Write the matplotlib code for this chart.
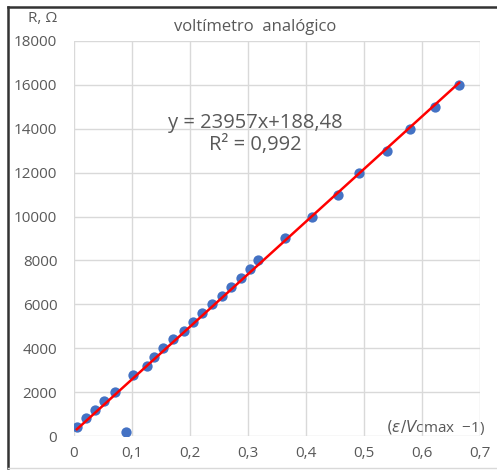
import matplotlib.pyplot as plt
import numpy as np
from matplotlib.lines import Line2D

plt.rcParams['font.family'] = ['Open Sans', 'DejaVu Sans']

# datos
x_vals = [0.005, 0.021, 0.036, 0.052, 0.071, 0.090, 0.102, 0.125, 0.138, 0.154,
          0.171, 0.190, 0.205, 0.221, 0.238, 0.255, 0.270, 0.288, 0.303, 0.318,
          0.364, 0.410, 0.455, 0.491, 0.540, 0.579, 0.622, 0.664]
r_vals = [400, 800, 1200, 1600, 2000, 200, 2800, 3200, 3600, 4000,
          4400, 4800, 5200, 5600, 6000, 6400, 6800, 7200, 7600, 8000,
          9000, 10000, 11000, 12000, 13000, 14000, 15000, 16000]
slope, intercept = 23957, 188.48
x_ticks = [0, 0.1, 0.2, 0.3, 0.4, 0.5, 0.6, 0.7]
y_ticks = list(range(0, 18001, 2000))

gray = '#595959'
fig = plt.figure(figsize=(4.97, 4.70), dpi=100)
ax = fig.add_axes([74 / 497, 34 / 470, 406 / 497, 395 / 470])

ax.scatter(x_vals, r_vals, s=55, color='#4472C4', zorder=3, linewidths=0)
xl = np.array([min(x_vals), max(x_vals)])
ax.plot(xl, slope * xl + intercept, color='#FF0000', lw=1.8, zorder=4)

ax.set_xlim(0, 0.7)
ax.set_ylim(0, 18000)
ax.set_xticks(x_ticks)
ax.set_xticklabels(['0' if t == 0 else f'{t:.1f}'.replace('.', ',') for t in x_ticks])
ax.set_yticks(y_ticks)
ax.grid(True, color='#D9D9D9', lw=1)
ax.set_axisbelow(True)
for s in ax.spines.values():
    s.set_visible(False)
ax.tick_params(length=0, colors=gray, labelsize=11, pad=7)
ax.tick_params(axis='y', pad=12)

ax.text(0.624, 380, r'$(\varepsilon/V$' + 'cmax  −1)', ha='center', va='center',
        fontsize=11, color=gray)
ax.text(0.313, 14280, 'y = 23957x+188,48', ha='center', va='center', fontsize=14.5, color=gray)
ax.text(0.313, 13250, 'R² = 0,992', ha='center', va='center', fontsize=14.5, color=gray)

fig.text(255 / 497, 1 - 27 / 470, 'voltímetro  analógico', ha='center', va='center',
         fontsize=12, color=gray)
fig.text(43 / 497, 1 - 19 / 470, 'R, Ω', ha='center', va='center', fontsize=11, color=gray)

# marco exterior
fig.add_artist(Line2D([8 / 497, 1], [1 - 7 / 470] * 2, color='#333333', lw=1.8))
fig.add_artist(Line2D([8 / 497] * 2, [1 - 7 / 470, 1 - 468 / 470], color='#333333', lw=1.8))
fig.add_artist(Line2D([8 / 497, 1], [1 - 468 / 470] * 2, color='#D9D9D9', lw=1))

fig.savefig('out.png', dpi=100)
